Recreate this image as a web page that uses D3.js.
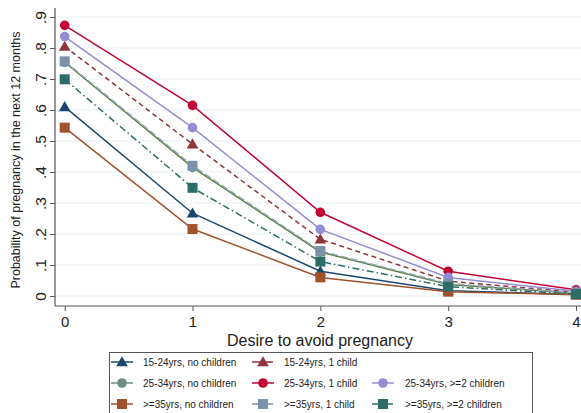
<!DOCTYPE html>
<html><head><meta charset="utf-8">
<script src="https://cdn.jsdelivr.net/npm/d3@7"></script>
<style>html,body{margin:0;padding:0;background:#fff;}svg{display:block;font-family:"Liberation Sans",Arial,sans-serif;}</style>
</head><body>
<script>
const xValues = [0, 1, 2, 3, 4];
const yTicks = [0, 0.1, 0.2, 0.3, 0.4, 0.5, 0.6, 0.7, 0.8, 0.9];
const yTickLabels = ["0", ".1", ".2", ".3", ".4", ".5", ".6", ".7", ".8", ".9"];
const seriesNames = ["15-24yrs, no children", "15-24yrs, 1 child", "25-34yrs, no children", "25-34yrs, 1 child", "25-34yrs, >=2 children", ">=35yrs, no children", ">=35yrs, 1 child", ">=35yrs, >=2 children"];
const s1524_none = [0.61, 0.267, 0.08, 0.017, 0.005];
const s1524_one = [0.805, 0.49, 0.183, 0.048, 0.012];
const s2534_none = [0.754, 0.415, 0.142, 0.037, 0.009];
const s2534_one = [0.873, 0.615, 0.27, 0.08, 0.02];
const s2534_two = [0.837, 0.543, 0.215, 0.06, 0.015];
const s35_none = [0.543, 0.216, 0.06, 0.014, 0.004];
const s35_one = [0.757, 0.42, 0.145, 0.04, 0.01];
const s35_two = [0.699, 0.349, 0.111, 0.03, 0.006];
const seriesValues = [s1524_none, s1524_one, s2534_none, s2534_one, s2534_two, s35_none, s35_one, s35_two];

const markerColors = ["#1a476f", "#90353b", "#6e8e84", "#c10534", "#938dd2", "#a0522d", "#7b92a8", "#2d6d66"];
const lineColors = ["#1a476f", "#90353b", "#5c7f3a", "#c10534", "#938dd2", "#a0522d", "#8fa3bb", "#2d6d66"];
const dashes = [null, "5,3.5", null, null, null, null, "7,3", "7,3,1.5,3"];
const shapes = ["triangle", "triangle", "circle", "circle", "circle", "square", "square", "square"];

const W = 581, H = 413;
const svg = d3.select("body").append("svg").attr("width", W).attr("height", H);

const x = d3.scaleLinear().domain([0, 4]).range([64.7, 576]);
const y = d3.scaleLinear().domain([0, 0.9]).range([296, 17]);
const plotLeft = 55, plotTop = 8, plotBottom = 306, plotRight = 581;

// grid
svg.append("g").selectAll("line").data(yTicks).join("line")
  .attr("x1", plotLeft).attr("x2", plotRight)
  .attr("y1", d => y(d)).attr("y2", d => y(d))
  .attr("stroke", "#e8f0f3").attr("stroke-width", 1.2);

// axes
const yAxis = d3.axisLeft(y).tickValues(yTicks).tickFormat((d, i) => yTickLabels[i]).tickSize(5).tickPadding(4);
const gy = svg.append("g").attr("transform", `translate(${plotLeft},0)`).call(yAxis);
gy.select(".domain").attr("d", `M0,${plotTop}V${plotBottom}`).attr("stroke", "#555").attr("stroke-width", 1.2);
gy.selectAll(".tick line").attr("stroke", "#555");
gy.selectAll(".tick text").attr("font-size", 15.5).attr("fill", "#222")
  .attr("text-anchor", "middle").attr("dy", null)
  .attr("transform", "translate(-15,0) rotate(-90)").attr("x", 0).attr("y", 0)
  .attr("dominant-baseline", "central");

const xAxis = d3.axisBottom(x).tickValues(xValues).tickFormat(d3.format("d")).tickSize(5).tickPadding(5);
const gx = svg.append("g").attr("transform", `translate(0,${plotBottom})`).call(xAxis);
gx.select(".domain").attr("d", `M${plotLeft},0H${plotRight}`).attr("stroke", "#555").attr("stroke-width", 1.2);
gx.selectAll(".tick line").attr("stroke", "#555");
gx.selectAll(".tick text").attr("font-size", 15).attr("fill", "#222");

svg.append("text").attr("x", 320).attr("y", 346).attr("text-anchor", "middle")
  .attr("font-size", 16).attr("fill", "#222").text("Desire to avoid pregnancy");
svg.append("text").attr("transform", "translate(20,160) rotate(-90)").attr("text-anchor", "middle")
  .attr("font-size", 12.5).attr("fill", "#222").text("Probability of pregnancy in the next 12 months");

const line = d3.line().x((d, i) => x(xValues[i])).y(d => y(d));

function drawMarker(g, shape, cx, cy, color) {
  if (shape === "circle") {
    g.append("circle").attr("cx", cx).attr("cy", cy).attr("r", 4.8).attr("fill", color);
  } else if (shape === "square") {
    g.append("rect").attr("x", cx - 5).attr("y", cy - 5).attr("width", 10).attr("height", 10).attr("fill", color);
  } else {
    const s = 5.8;
    g.append("path").attr("d", `M${cx},${cy - s}L${cx + s},${cy + s * 0.75}L${cx - s},${cy + s * 0.75}Z`).attr("fill", color);
  }
}

const plotG = svg.append("g");
seriesValues.forEach((vals, k) => {
  const g = plotG.append("g");
  g.append("path").attr("d", line(vals)).attr("fill", "none")
    .attr("stroke", lineColors[k]).attr("stroke-width", 1.5)
    .attr("stroke-dasharray", dashes[k]);
  vals.forEach((v, i) => drawMarker(g, shapes[k], x(xValues[i]), y(v), markerColors[k]));
});

// legend
svg.append("rect").attr("x", 109.5).attr("y", 352.5).attr("width", 423).attr("height", 70)
  .attr("fill", "#fff").attr("stroke", "#555").attr("stroke-width", 1);
const colSym = [122, 263, 383];
const colText = [143, 284, 405];
const rowY = [362, 383, 404];
const legendOrder = [0, 1, null, 2, 3, 4, 5, 6, 7];
legendOrder.forEach((k, idx) => {
  if (k === null) return;
  const r = Math.floor(idx / 3), c = idx % 3;
  const g = svg.append("g");
  const cx = colSym[c], cy = rowY[r];
  g.append("line").attr("x1", cx - 11).attr("x2", cx + 11).attr("y1", cy).attr("y2", cy)
    .attr("stroke", markerColors[k]).attr("stroke-width", 1.5).attr("stroke-dasharray", dashes[k] ? "9,3" : null);
  drawMarker(g, shapes[k], cx, cy, markerColors[k]);
  g.append("text").attr("x", colText[c]).attr("y", cy).attr("dominant-baseline", "central")
    .attr("font-size", 10).attr("fill", "#222").text(seriesNames[k]);
});
</script>
</body></html>
